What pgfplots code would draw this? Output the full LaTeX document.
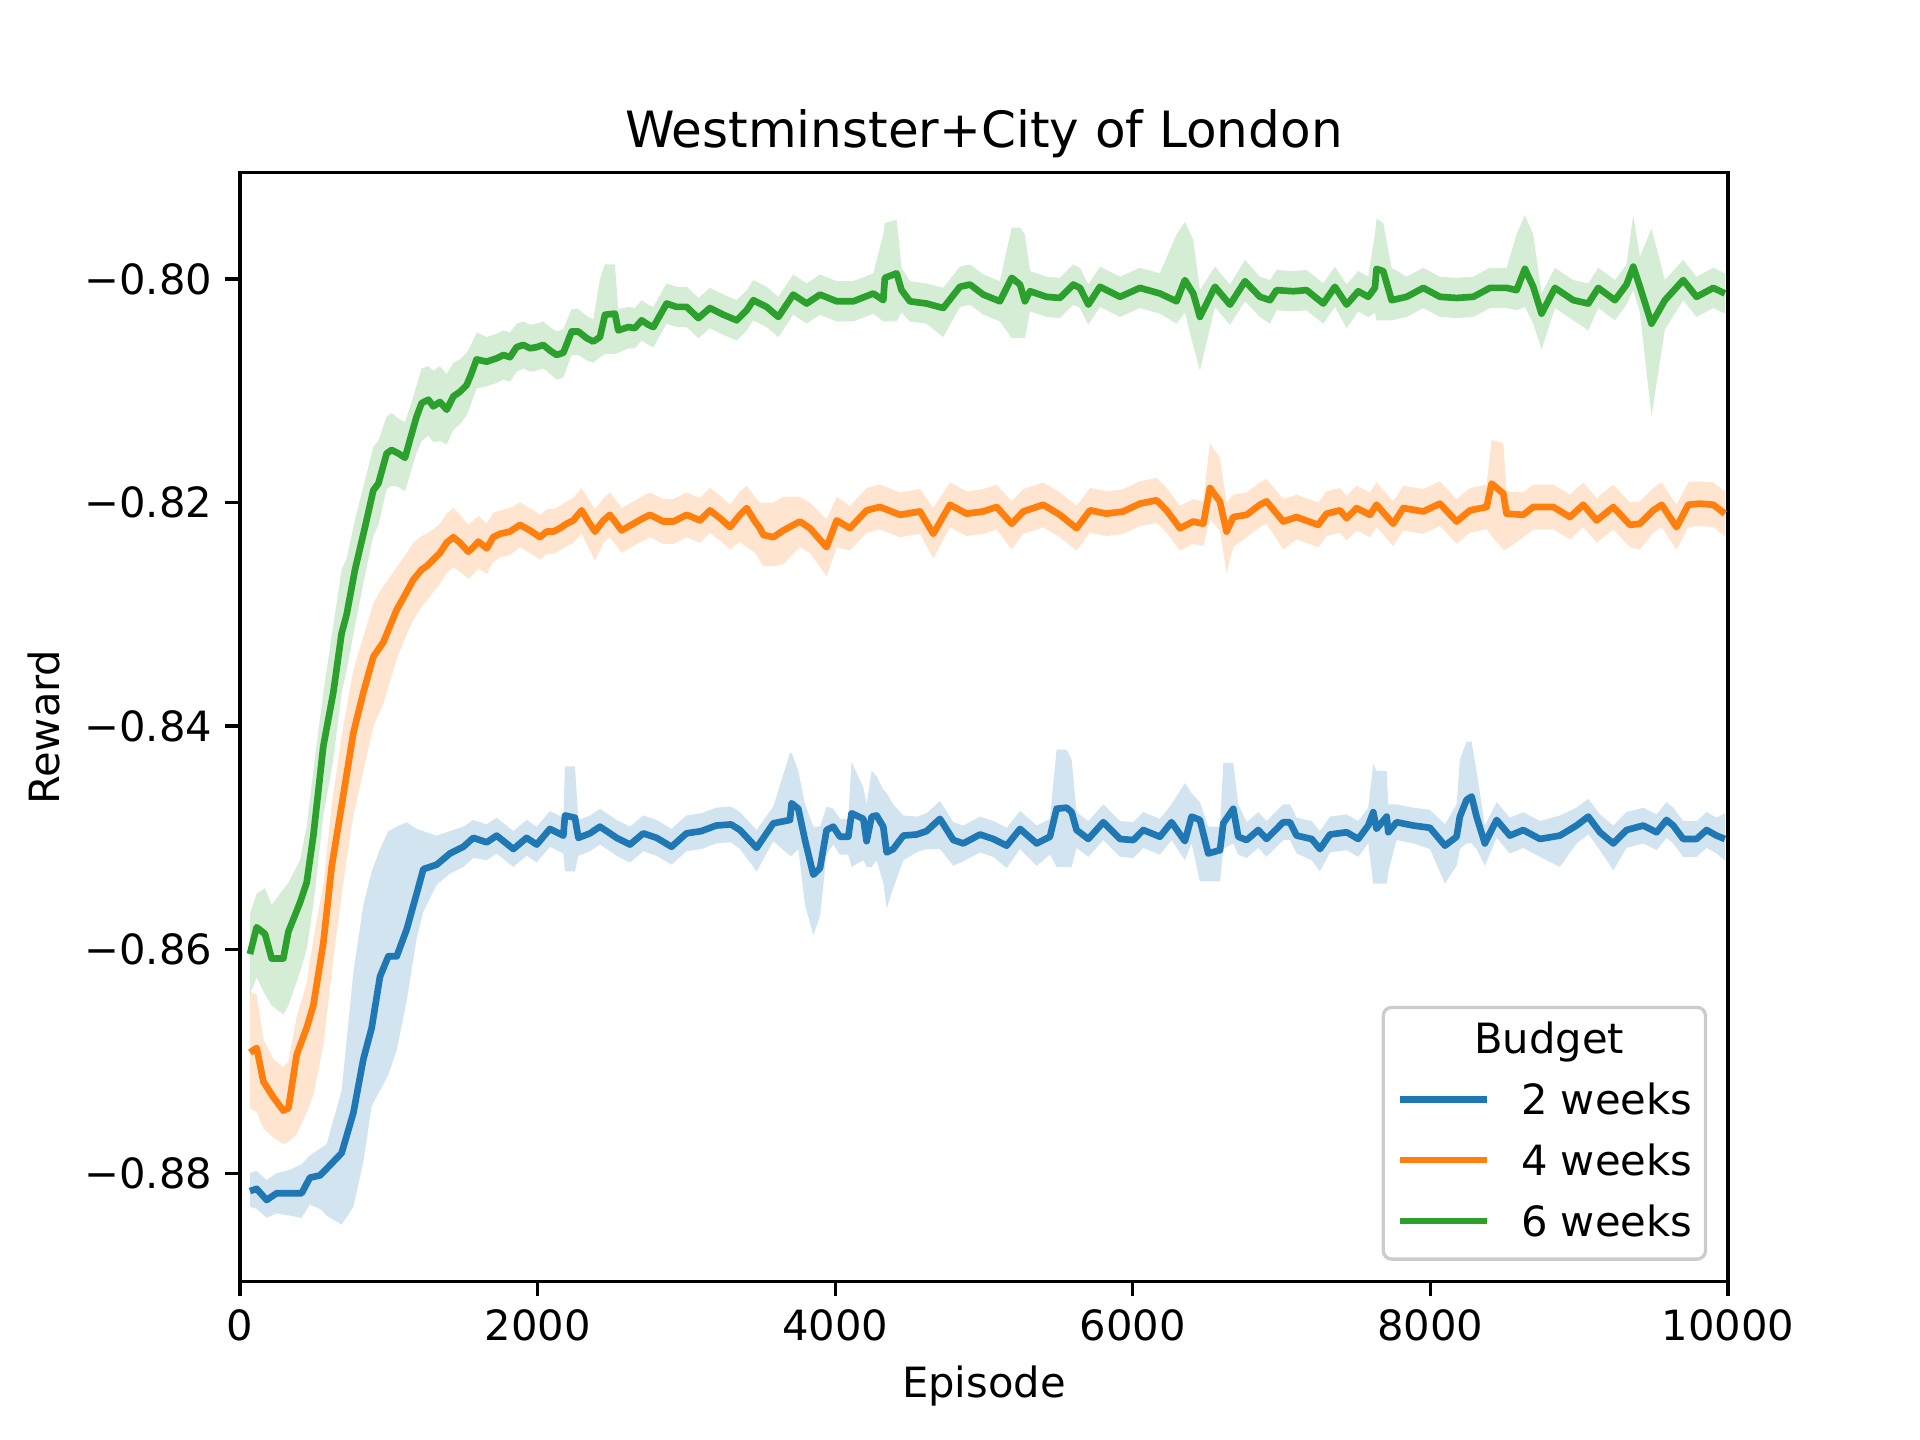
\documentclass[border=0pt]{standalone}
\usepackage{fontspec}
\setmainfont{DejaVu Sans}
\usepackage{pgfplots}
\pgfplotsset{compat=1.18}
\usepackage{pgfplotstable}
\usepgfplotslibrary{fillbetween}
\definecolor{c0}{HTML}{1F77B4}
\definecolor{c1}{HTML}{FF7F0E}
\definecolor{c2}{HTML}{2CA02C}

\pgfplotstableread{
x m lo hi
67 -0.8816 -0.8830 -0.8800
112 -0.8814 -0.8832 -0.8798
179 -0.8824 -0.8840 -0.8806
246 -0.8818 -0.8836 -0.8800
336 -0.8818 -0.8838 -0.8797
414 -0.8818 -0.8840 -0.8792
470 -0.8804 -0.8828 -0.8784
538 -0.8802 -0.8832 -0.8778
582 -0.8796 -0.8838 -0.8774
683 -0.8782 -0.8846 -0.8726
762 -0.8746 -0.8830 -0.8620
829 -0.8698 -0.8790 -0.8560
885 -0.8670 -0.8740 -0.8530
941 -0.8624 -0.8726 -0.8510
997 -0.8606 -0.8712 -0.8494
1053 -0.8606 -0.8690 -0.8490
1120 -0.8582 -0.8646 -0.8486
1187 -0.8550 -0.8590 -0.8492
1232 -0.8528 -0.8566 -0.8494
1322 -0.8524 -0.8542 -0.8498
1411 -0.8514 -0.8532 -0.8494
1501 -0.8508 -0.8526 -0.8490
1568 -0.8500 -0.8518 -0.8484
1658 -0.8504 -0.8520 -0.8488
1725 -0.8498 -0.8514 -0.8482
1837 -0.8510 -0.8526 -0.8494
1926 -0.8500 -0.8516 -0.8484
1994 -0.8506 -0.8522 -0.8490
2083 -0.8492 -0.8508 -0.8476
2173 -0.8498 -0.8514 -0.8482
2184 -0.8480 -0.8530 -0.8436
2251 -0.8482 -0.8530 -0.8436
2274 -0.8500 -0.8516 -0.8484
2352 -0.8496 -0.8512 -0.8480
2419 -0.8490 -0.8506 -0.8474
2531 -0.8500 -0.8516 -0.8484
2621 -0.8506 -0.8522 -0.8490
2710 -0.8496 -0.8512 -0.8480
2800 -0.8500 -0.8516 -0.8484
2900 -0.8508 -0.8524 -0.8492
3000 -0.8496 -0.8512 -0.8480
3100 -0.8494 -0.8510 -0.8478
3200 -0.8489 -0.8505 -0.8473
3300 -0.8488 -0.8504 -0.8472
3360 -0.8493 -0.8510 -0.8477
3472 -0.8509 -0.8530 -0.8493
3584 -0.8487 -0.8503 -0.8472
3696 -0.8484 -0.8516 -0.8424
3707 -0.8469 -0.8516 -0.8424
3752 -0.8474 -0.8510 -0.8440
3797 -0.8502 -0.8560 -0.8470
3853 -0.8533 -0.8587 -0.8490
3898 -0.8527 -0.8570 -0.8490
3942 -0.8493 -0.8515 -0.8472
3987 -0.8490 -0.8506 -0.8474
4032 -0.8499 -0.8515 -0.8483
4088 -0.8499 -0.8515 -0.8483
4110 -0.8478 -0.8526 -0.8432
4189 -0.8483 -0.8520 -0.8455
4211 -0.8503 -0.8526 -0.8470
4245 -0.8481 -0.8526 -0.8440
4278 -0.8480 -0.8520 -0.8445
4323 -0.8490 -0.8540 -0.8457
4346 -0.8513 -0.8563 -0.8460
4390 -0.8510 -0.8545 -0.8470
4458 -0.8498 -0.8520 -0.8480
4547 -0.8497 -0.8513 -0.8481
4614 -0.8494 -0.8510 -0.8478
4704 -0.8483 -0.8510 -0.8467
4794 -0.8502 -0.8525 -0.8486
4861 -0.8505 -0.8521 -0.8489
4973 -0.8497 -0.8513 -0.8481
5062 -0.8501 -0.8517 -0.8485
5152 -0.8507 -0.8527 -0.8491
5242 -0.8492 -0.8510 -0.8476
5354 -0.8505 -0.8525 -0.8489
5443 -0.8499 -0.8515 -0.8483
5488 -0.8474 -0.8526 -0.8421
5555 -0.8473 -0.8526 -0.8421
5589 -0.8477 -0.8526 -0.8430
5622 -0.8493 -0.8509 -0.8477
5701 -0.8501 -0.8517 -0.8485
5802 -0.8486 -0.8502 -0.8470
5914 -0.8501 -0.8517 -0.8485
6003 -0.8502 -0.8518 -0.8486
6070 -0.8493 -0.8509 -0.8477
6182 -0.8499 -0.8515 -0.8483
6260 -0.8486 -0.8502 -0.8470
6350 -0.8503 -0.8520 -0.8451
6395 -0.8481 -0.8505 -0.8460
6451 -0.8484 -0.8539 -0.8468
6507 -0.8514 -0.8539 -0.8490
6586 -0.8511 -0.8539 -0.8490
6608 -0.8487 -0.8510 -0.8433
6675 -0.8474 -0.8505 -0.8433
6709 -0.8499 -0.8515 -0.8470
6765 -0.8502 -0.8518 -0.8486
6843 -0.8493 -0.8509 -0.8477
6899 -0.8501 -0.8517 -0.8485
7011 -0.8486 -0.8502 -0.8470
7056 -0.8486 -0.8502 -0.8470
7101 -0.8498 -0.8514 -0.8482
7202 -0.8501 -0.8520 -0.8485
7258 -0.8510 -0.8530 -0.8494
7325 -0.8497 -0.8513 -0.8481
7437 -0.8495 -0.8511 -0.8479
7515 -0.8501 -0.8517 -0.8485
7582 -0.8489 -0.8505 -0.8473
7616 -0.8477 -0.8541 -0.8434
7638 -0.8492 -0.8541 -0.8440
7706 -0.8481 -0.8541 -0.8440
7717 -0.8495 -0.8530 -0.8470
7773 -0.8486 -0.8502 -0.8470
7885 -0.8489 -0.8505 -0.8473
7997 -0.8491 -0.8510 -0.8475
8098 -0.8507 -0.8541 -0.8488
8176 -0.8499 -0.8525 -0.8470
8198 -0.8481 -0.8510 -0.8430
8243 -0.8466 -0.8505 -0.8414
8277 -0.8463 -0.8505 -0.8414
8310 -0.8481 -0.8510 -0.8440
8366 -0.8505 -0.8525 -0.8489
8445 -0.8484 -0.8500 -0.8468
8534 -0.8498 -0.8514 -0.8482
8624 -0.8493 -0.8509 -0.8477
8736 -0.8501 -0.8517 -0.8485
8870 -0.8498 -0.8526 -0.8480
8982 -0.8489 -0.8505 -0.8473
9061 -0.8481 -0.8497 -0.8465
9139 -0.8495 -0.8511 -0.8479
9229 -0.8505 -0.8529 -0.8489
9318 -0.8493 -0.8509 -0.8477
9430 -0.8489 -0.8505 -0.8473
9520 -0.8495 -0.8511 -0.8479
9587 -0.8484 -0.8500 -0.8468
9632 -0.8489 -0.8505 -0.8473
9699 -0.8501 -0.8517 -0.8485
9789 -0.8501 -0.8517 -0.8485
9856 -0.8493 -0.8509 -0.8477
9923 -0.8498 -0.8514 -0.8482
9979 -0.8501 -0.8520 -0.8478
}\blue

\pgfplotstableread{
x m lo hi
67 -0.8692 -0.8742 -0.8638
112 -0.8688 -0.8745 -0.8640
157 -0.8718 -0.8760 -0.8680
224 -0.8732 -0.8768 -0.8698
291 -0.8744 -0.8774 -0.8705
325 -0.8742 -0.8772 -0.8700
381 -0.8694 -0.8765 -0.8660
448 -0.8670 -0.8746 -0.8630
493 -0.8650 -0.8730 -0.8590
560 -0.8594 -0.8686 -0.8542
616 -0.8526 -0.8620 -0.8470
694 -0.8462 -0.8540 -0.8400
762 -0.8406 -0.8480 -0.8350
829 -0.8370 -0.8440 -0.8320
896 -0.8338 -0.8400 -0.8290
963 -0.8325 -0.8380 -0.8275
1053 -0.8296 -0.8340 -0.8258
1120 -0.8280 -0.8318 -0.8245
1165 -0.8269 -0.8305 -0.8236
1221 -0.8260 -0.8293 -0.8230
1254 -0.8257 -0.8288 -0.8228
1299 -0.8251 -0.8280 -0.8224
1344 -0.8245 -0.8273 -0.8219
1389 -0.8236 -0.8263 -0.8210
1434 -0.8231 -0.8258 -0.8205
1478 -0.8236 -0.8262 -0.8211
1534 -0.8244 -0.8268 -0.8220
1568 -0.8240 -0.8264 -0.8216
1602 -0.8235 -0.8259 -0.8212
1658 -0.8241 -0.8264 -0.8219
1702 -0.8231 -0.8253 -0.8209
1747 -0.8228 -0.8249 -0.8207
1814 -0.8226 -0.8247 -0.8205
1882 -0.8220 -0.8240 -0.8200
1949 -0.8225 -0.8245 -0.8205
2016 -0.8231 -0.8251 -0.8211
2061 -0.8226 -0.8246 -0.8206
2106 -0.8226 -0.8246 -0.8206
2150 -0.8223 -0.8243 -0.8203
2195 -0.8219 -0.8239 -0.8199
2240 -0.8216 -0.8236 -0.8196
2296 -0.8207 -0.8228 -0.8187
2341 -0.8217 -0.8240 -0.8197
2386 -0.8226 -0.8252 -0.8206
2442 -0.8216 -0.8236 -0.8196
2486 -0.8211 -0.8231 -0.8191
2531 -0.8219 -0.8239 -0.8199
2565 -0.8225 -0.8245 -0.8205
2643 -0.8219 -0.8239 -0.8199
2710 -0.8214 -0.8234 -0.8194
2755 -0.8211 -0.8231 -0.8191
2845 -0.8217 -0.8237 -0.8197
2912 -0.8217 -0.8237 -0.8197
3002 -0.8211 -0.8231 -0.8191
3091 -0.8216 -0.8236 -0.8196
3158 -0.8207 -0.8227 -0.8187
3226 -0.8214 -0.8234 -0.8194
3293 -0.8222 -0.8242 -0.8202
3360 -0.8211 -0.8235 -0.8190
3405 -0.8205 -0.8240 -0.8185
3461 -0.8217 -0.8245 -0.8195
3494 -0.8223 -0.8252 -0.8200
3517 -0.8229 -0.8257 -0.8200
3584 -0.8231 -0.8257 -0.8200
3651 -0.8225 -0.8255 -0.8195
3763 -0.8217 -0.8240 -0.8195
3830 -0.8223 -0.8245 -0.8200
3942 -0.8240 -0.8266 -0.8215
4010 -0.8216 -0.8240 -0.8195
4099 -0.8223 -0.8243 -0.8203
4211 -0.8207 -0.8227 -0.8187
4301 -0.8204 -0.8224 -0.8184
4435 -0.8211 -0.8231 -0.8191
4570 -0.8208 -0.8228 -0.8188
4659 -0.8228 -0.8250 -0.8205
4771 -0.8202 -0.8222 -0.8182
4883 -0.8210 -0.8230 -0.8190
4995 -0.8208 -0.8228 -0.8188
5085 -0.8204 -0.8224 -0.8184
5186 -0.8219 -0.8242 -0.8199
5264 -0.8208 -0.8228 -0.8188
5398 -0.8202 -0.8222 -0.8182
5510 -0.8211 -0.8231 -0.8191
5622 -0.8223 -0.8243 -0.8203
5712 -0.8207 -0.8227 -0.8187
5824 -0.8210 -0.8230 -0.8190
5936 -0.8208 -0.8228 -0.8188
6048 -0.8201 -0.8221 -0.8181
6160 -0.8198 -0.8218 -0.8178
6227 -0.8207 -0.8227 -0.8187
6317 -0.8223 -0.8243 -0.8203
6406 -0.8217 -0.8237 -0.8197
6474 -0.8219 -0.8239 -0.8199
6518 -0.8187 -0.8215 -0.8147
6585 -0.8199 -0.8225 -0.8160
6630 -0.8226 -0.8263 -0.8200
6675 -0.8213 -0.8240 -0.8193
6765 -0.8211 -0.8231 -0.8191
6854 -0.8202 -0.8222 -0.8182
6899 -0.8199 -0.8219 -0.8179
7011 -0.8217 -0.8242 -0.8197
7101 -0.8213 -0.8233 -0.8193
7246 -0.8220 -0.8240 -0.8200
7302 -0.8210 -0.8230 -0.8190
7392 -0.8207 -0.8227 -0.8187
7437 -0.8214 -0.8234 -0.8194
7504 -0.8205 -0.8225 -0.8185
7594 -0.8211 -0.8231 -0.8191
7638 -0.8202 -0.8222 -0.8182
7750 -0.8219 -0.8239 -0.8199
7818 -0.8205 -0.8225 -0.8185
7952 -0.8208 -0.8228 -0.8188
8064 -0.8201 -0.8221 -0.8181
8176 -0.8217 -0.8237 -0.8197
8266 -0.8207 -0.8227 -0.8187
8378 -0.8204 -0.8224 -0.8184
8411 -0.8183 -0.8230 -0.8144
8490 -0.8192 -0.8242 -0.8147
8512 -0.8210 -0.8242 -0.8190
8624 -0.8211 -0.8231 -0.8191
8691 -0.8204 -0.8224 -0.8184
8826 -0.8204 -0.8224 -0.8184
8938 -0.8213 -0.8233 -0.8193
9027 -0.8202 -0.8222 -0.8182
9117 -0.8216 -0.8236 -0.8196
9229 -0.8204 -0.8224 -0.8184
9341 -0.8220 -0.8240 -0.8200
9408 -0.8219 -0.8242 -0.8199
9498 -0.8207 -0.8227 -0.8187
9554 -0.8202 -0.8222 -0.8182
9654 -0.8222 -0.8242 -0.8202
9733 -0.8202 -0.8222 -0.8182
9811 -0.8201 -0.8221 -0.8181
9901 -0.8202 -0.8222 -0.8182
9979 -0.8210 -0.8230 -0.8190
}\orange

\pgfplotstableread{
x m lo hi
67 -0.8604 -0.8640 -0.8568
112 -0.8580 -0.8625 -0.8550
168 -0.8586 -0.8640 -0.8545
213 -0.8608 -0.8650 -0.8560
291 -0.8608 -0.8658 -0.8546
325 -0.8584 -0.8650 -0.8540
403 -0.8558 -0.8620 -0.8520
448 -0.8540 -0.8600 -0.8490
493 -0.8498 -0.8560 -0.8440
560 -0.8418 -0.8480 -0.8370
627 -0.8370 -0.8430 -0.8310
683 -0.8317 -0.8370 -0.8260
717 -0.8300 -0.8350 -0.8250
773 -0.8260 -0.8310 -0.8215
840 -0.8222 -0.8265 -0.8180
896 -0.8189 -0.8230 -0.8150
930 -0.8183 -0.8220 -0.8145
986 -0.8156 -0.8188 -0.8123
1019 -0.8153 -0.8185 -0.8120
1064 -0.8156 -0.8186 -0.8125
1109 -0.8160 -0.8190 -0.8128
1142 -0.8144 -0.8175 -0.8115
1187 -0.8123 -0.8155 -0.8095
1221 -0.8111 -0.8145 -0.8080
1266 -0.8108 -0.8140 -0.8078
1299 -0.8114 -0.8146 -0.8082
1344 -0.8110 -0.8145 -0.8078
1389 -0.8117 -0.8148 -0.8085
1434 -0.8105 -0.8135 -0.8075
1478 -0.8101 -0.8130 -0.8072
1523 -0.8095 -0.8122 -0.8066
1557 -0.8084 -0.8110 -0.8058
1590 -0.8072 -0.8098 -0.8048
1658 -0.8074 -0.8096 -0.8052
1725 -0.8071 -0.8093 -0.8049
1770 -0.8068 -0.8090 -0.8046
1814 -0.8070 -0.8092 -0.8048
1859 -0.8061 -0.8083 -0.8040
1904 -0.8059 -0.8080 -0.8038
1949 -0.8062 -0.8083 -0.8041
1994 -0.8061 -0.8082 -0.8040
2038 -0.8059 -0.8080 -0.8038
2083 -0.8064 -0.8085 -0.8043
2128 -0.8068 -0.8090 -0.8047
2173 -0.8066 -0.8088 -0.8045
2229 -0.8047 -0.8068 -0.8027
2274 -0.8047 -0.8068 -0.8027
2330 -0.8053 -0.8073 -0.8033
2374 -0.8056 -0.8075 -0.8036
2419 -0.8052 -0.8070 -0.8000
2453 -0.8032 -0.8067 -0.7987
2520 -0.8031 -0.8067 -0.7987
2542 -0.8046 -0.8066 -0.8027
2610 -0.8043 -0.8062 -0.8025
2654 -0.8044 -0.8062 -0.8026
2699 -0.8037 -0.8055 -0.8019
2744 -0.8041 -0.8059 -0.8023
2778 -0.8043 -0.8061 -0.8025
2867 -0.8022 -0.8040 -0.8004
2934 -0.8025 -0.8043 -0.8007
3002 -0.8025 -0.8043 -0.8007
3080 -0.8035 -0.8053 -0.8017
3158 -0.8026 -0.8044 -0.8008
3248 -0.8032 -0.8050 -0.8014
3338 -0.8037 -0.8055 -0.8019
3405 -0.8028 -0.8046 -0.8010
3450 -0.8019 -0.8037 -0.8001
3539 -0.8025 -0.8043 -0.8007
3618 -0.8034 -0.8052 -0.8016
3718 -0.8014 -0.8032 -0.7996
3808 -0.8022 -0.8040 -0.8004
3898 -0.8014 -0.8032 -0.7996
4010 -0.8020 -0.8038 -0.8002
4122 -0.8020 -0.8038 -0.8002
4256 -0.8013 -0.8031 -0.7995
4323 -0.8019 -0.8038 -0.7960
4334 -0.7999 -0.8038 -0.7950
4413 -0.7995 -0.8038 -0.7947
4446 -0.8010 -0.8030 -0.7990
4502 -0.8020 -0.8038 -0.8002
4614 -0.8022 -0.8040 -0.8004
4726 -0.8026 -0.8052 -0.8008
4838 -0.8007 -0.8025 -0.7989
4906 -0.8005 -0.8023 -0.7987
4995 -0.8014 -0.8032 -0.7996
5107 -0.8020 -0.8038 -0.8002
5186 -0.7999 -0.8053 -0.7954
5242 -0.8005 -0.8053 -0.7954
5275 -0.8020 -0.8053 -0.7960
5309 -0.8011 -0.8029 -0.7993
5421 -0.8016 -0.8034 -0.7998
5510 -0.8017 -0.8035 -0.7999
5600 -0.8005 -0.8023 -0.7987
5645 -0.8008 -0.8026 -0.7990
5701 -0.8023 -0.8041 -0.8005
5779 -0.8007 -0.8025 -0.7989
5914 -0.8016 -0.8034 -0.7998
6048 -0.8008 -0.8026 -0.7990
6182 -0.8013 -0.8031 -0.7995
6294 -0.8020 -0.8040 -0.7960
6350 -0.8001 -0.8030 -0.7949
6406 -0.8013 -0.8060 -0.7965
6451 -0.8034 -0.8082 -0.8010
6552 -0.8007 -0.8025 -0.7989
6653 -0.8023 -0.8041 -0.8005
6754 -0.8002 -0.8020 -0.7983
6854 -0.8016 -0.8034 -0.7998
6922 -0.8019 -0.8040 -0.8001
6966 -0.8010 -0.8028 -0.7992
7078 -0.8011 -0.8029 -0.7993
7168 -0.8010 -0.8028 -0.7992
7280 -0.8022 -0.8040 -0.8004
7358 -0.8007 -0.8025 -0.7989
7437 -0.8023 -0.8044 -0.8005
7515 -0.8011 -0.8029 -0.7993
7582 -0.8016 -0.8034 -0.7998
7627 -0.8008 -0.8030 -0.7960
7638 -0.7991 -0.8037 -0.7946
7683 -0.7993 -0.8037 -0.7950
7739 -0.8019 -0.8037 -0.7990
7840 -0.8016 -0.8034 -0.7998
7952 -0.8008 -0.8026 -0.7990
8064 -0.8016 -0.8034 -0.7998
8176 -0.8017 -0.8035 -0.7999
8288 -0.8016 -0.8034 -0.7998
8400 -0.8008 -0.8026 -0.7990
8512 -0.8008 -0.8026 -0.7990
8579 -0.8010 -0.8028 -0.7960
8635 -0.7991 -0.8025 -0.7943
8691 -0.8007 -0.8040 -0.7960
8747 -0.8031 -0.8063 -0.8013
8837 -0.8008 -0.8026 -0.7990
8960 -0.8019 -0.8037 -0.8001
9061 -0.8022 -0.8046 -0.8004
9128 -0.8008 -0.8026 -0.7990
9240 -0.8019 -0.8037 -0.8001
9318 -0.8005 -0.8023 -0.7987
9363 -0.7989 -0.8010 -0.7943
9408 -0.8007 -0.8030 -0.7980
9486 -0.8040 -0.8123 -0.7955
9576 -0.8019 -0.8045 -0.8001
9699 -0.8001 -0.8019 -0.7983
9789 -0.8016 -0.8034 -0.7998
9901 -0.8008 -0.8026 -0.7990
9979 -0.8013 -0.8031 -0.7995
}\green

\begin{document}
\begin{tikzpicture}
\begin{axis}[
  at={(0,0)}, anchor=south west,
  scale only axis, width=357.12pt, height=266.112pt,
  xmin=0, xmax=10000, ymin=-0.8897, ymax=-0.7905,
  scaled x ticks=false, scaled y ticks=false,
  font=\fontsize{10}{12}\selectfont,
  axis line style={line width=0.8pt},
  tick style={line width=0.8pt, black},
  major tick length=3.5pt,
  tick align=outside,
  tick pos=left,
  xtick={0,2000,4000,6000,8000,10000},
  xticklabels={0,2000,4000,6000,8000,10000},
  ytick={-0.88,-0.86,-0.84,-0.82,-0.80},
  yticklabels={−0.88,−0.86,−0.84,−0.82,−0.80},
  xticklabel style={anchor=base, inner sep=0pt, yshift=-10.6pt},
  yticklabel style={anchor=east, inner sep=0pt, xshift=-3.0pt},
  minor tick num=0,
  title={Westminster+City of London},
  title style={at={(axis description cs:0.5,1.0)}, anchor=base, inner sep=0pt, font=\fontsize{12}{14.4}\selectfont},
  xlabel={Episode},
  xlabel style={at={(axis description cs:0.5,-0.1048)}, anchor=base, inner sep=0pt},
  ylabel={Reward},
  ylabel style={at={(axis description cs:-0.121,0.5)}, anchor=base, inner sep=0pt},
  legend cell align=left,
  legend style={at={(axis description cs:0.986,0.0188)}, anchor=south east,
    draw=black!20, line width=0.8pt, rounded corners=2pt,
    fill=white, fill opacity=0.8, text opacity=1,
    inner xsep=3.2pt, inner ysep=3.5pt,
    font=\fontsize{10}{12}\selectfont,
    row sep=5pt, column sep=7.4pt,
    nodes={inner sep=0pt, text height=7.6pt, text depth=2pt}},
  legend image code/.code={\draw[#1, line width=1.5pt] (0pt,0.8pt) -- (21pt,0.8pt);},
  every axis plot/.append style={line join=round},
]
\addlegendimage{empty legend}
\addlegendentry{\hspace*{-11.3pt}Budget}

\addplot[draw=none, name path=bhi, forget plot] table[x=x,y=hi]{\blue};
\addplot[draw=none, name path=blo, forget plot] table[x=x,y=lo]{\blue};
\addplot[fill=c0, fill opacity=0.2, draw=none, forget plot] fill between[of=bhi and blo];
\addplot[c0, line width=1.6pt] table[x=x,y=m]{\blue};
\addlegendentry{2 weeks}

\addplot[draw=none, name path=ohi, forget plot] table[x=x,y=hi]{\orange};
\addplot[draw=none, name path=olo, forget plot] table[x=x,y=lo]{\orange};
\addplot[fill=c1, fill opacity=0.2, draw=none, forget plot] fill between[of=ohi and olo];
\addplot[c1, line width=1.6pt] table[x=x,y=m]{\orange};
\addlegendentry{4 weeks}

\addplot[draw=none, name path=ghi, forget plot] table[x=x,y=hi]{\green};
\addplot[draw=none, name path=glo, forget plot] table[x=x,y=lo]{\green};
\addplot[fill=c2, fill opacity=0.2, draw=none, forget plot] fill between[of=ghi and glo];
\addplot[c2, line width=1.6pt] table[x=x,y=m]{\green};
\addlegendentry{6 weeks}
\end{axis}
\pgfresetboundingbox
\path (-57.6pt,-38.016pt) rectangle (403.2pt,307.584pt);
\end{tikzpicture}
\end{document}
